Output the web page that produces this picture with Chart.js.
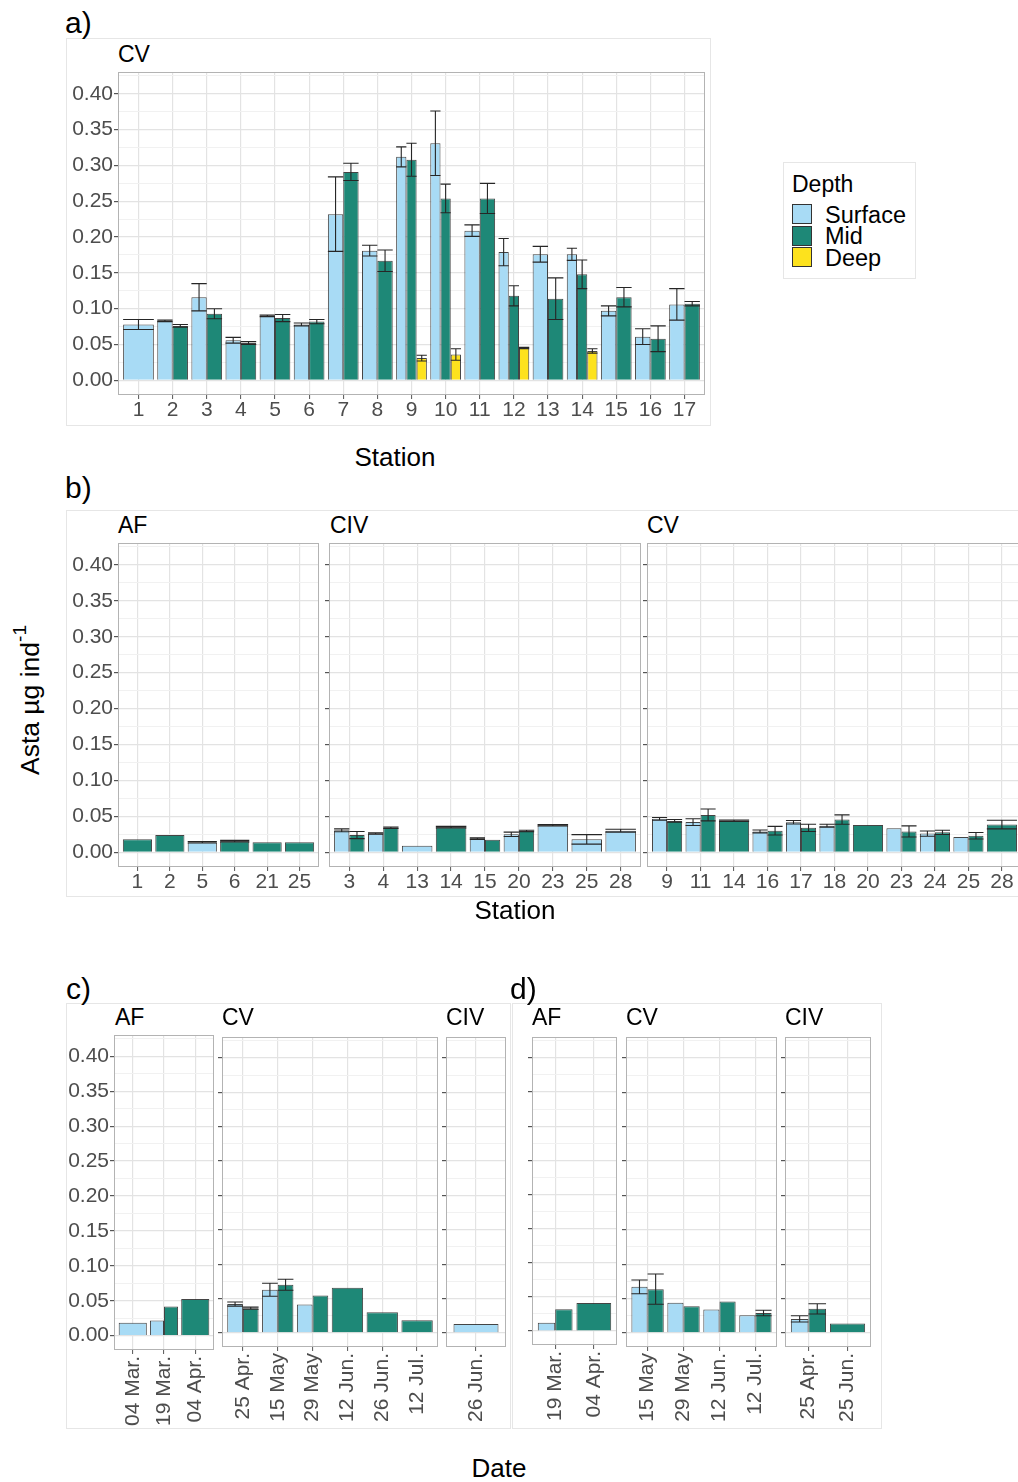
<!DOCTYPE html>
<html><head><meta charset="utf-8">
<script src="https://cdn.jsdelivr.net/npm/chart.js@4/dist/chart.umd.min.js"></script>
<style>
html,body{margin:0;padding:0;background:#fff}
body{width:1018px;height:1482px;overflow:hidden;position:relative;font-family:"Liberation Sans",Arial,Helvetica,sans-serif;color:#000}
canvas{position:absolute;display:block}
.frame{position:absolute;border:1px solid #E6E6E6;box-sizing:border-box}
.txt{position:absolute;white-space:nowrap}
.key{position:absolute;width:20px;height:20px;border:1px solid #333;box-sizing:border-box}
sup{font-size:0.72em;line-height:0;position:relative;top:-0.15em}
</style>
</head><body>
<div class="frame" style="left:66px;top:38px;width:645px;height:388px"></div>
<div class="frame" style="left:783px;top:162px;width:133px;height:117px"></div>
<div class="frame" style="left:66px;top:510px;width:960px;height:387px"></div>
<div class="frame" style="left:66px;top:1003px;width:445px;height:426px"></div>
<div class="frame" style="left:512px;top:1003px;width:370px;height:426px"></div>
<div class="key" style="left:792px;top:204px;background:#A8DBF5"></div>
<div class="key" style="left:792px;top:225.5px;background:#1E8877"></div>
<div class="key" style="left:792px;top:247px;background:#FDE21D"></div>
<script>
// ---------------- DATA ----------------
// a) CV, by station (Surface / Mid / Deep, mean and error)
const aStations   = ['1','2','3','4','5','6','7','8','9','10','11','12','13','14','15','16','17'];
const aSurface    = [0.078,0.083,0.116,0.056,0.090,0.078,0.232,0.181,0.312,0.331,0.209,0.179,0.176,0.176,0.097,0.061,0.106];
const aSurfaceErr = [0.007,0.001,0.019,0.004,0.001,0.002,0.052,0.0075,0.014,0.045,0.008,0.019,0.011,0.0085,0.007,0.011,0.022];
const aMid        = [null,0.076,0.093,0.052,0.087,0.082,0.291,0.167,0.308,0.254,0.254,0.118,0.114,0.148,0.116,0.058,0.107];
const aMidErr     = [null,0.002,0.007,0.002,0.005,0.003,0.012,0.015,0.023,0.020,0.021,0.014,0.029,0.020,0.0135,0.018,0.003];
const aDeep       = [null,null,null,null,null,null,null,null,0.031,0.036,null,0.045,null,0.041,null,null,null];
const aDeepErr    = [null,null,null,null,null,null,null,null,0.004,0.008,null,0.001,null,0.003,null,null,null];

// b) by station, facets AF / CIV / CV
const bAFStations    = ['1','2','5','6','21','25'];
const bAFSurface     = [null,null,0.014,null,null,null];
const bAFSurfaceErr  = [null,null,0.001,null,null,null];
const bAFMid         = [0.018,0.024,null,0.0155,0.014,0.014];
const bAFMidErr      = [null,null,null,0.001,null,null];

const bCIVStations   = ['3','4','13','14','15','20','23','25','28'];
const bCIVSurface    = [0.0305,0.026,0.009,null,0.019,0.025,0.0375,0.018,0.030];
const bCIVSurfaceErr = [0.002,0.001,null,null,0.001,0.003,0.001,0.0066,0.002];
const bCIVMid        = [0.024,0.034,null,0.035,0.0174,0.0296,null,null,null];
const bCIVMidErr     = [0.005,0.001,null,0.001,null,0.001,null,null,null];

const bCVStations    = ['9','11','14','16','17','18','20','23','24','25','28'];
const bCVSurface     = [0.0465,0.042,null,0.029,0.0418,0.037,null,0.0333,0.026,0.0211,null];
const bCVSurfaceErr  = [0.002,0.0047,null,0.002,0.0025,0.002,null,null,0.0037,null,null];
const bCVMid         = [0.0437,0.052,0.044,0.030,0.034,0.0455,0.038,0.029,0.0277,0.023,0.0385];
const bCVMidErr      = [0.002,0.0083,0.001,0.006,0.005,0.0065,null,0.0077,0.003,0.0045,0.006];

// c) by date, facets AF / CV / CIV
const cAFDates       = ['04 Mar.','19 Mar.','04 Apr.'];
const cAFSurface     = [0.0185,0.0218,null];
const cAFSurfaceErr  = [null,null,null];
const cAFMid         = [null,0.0417,0.0526];
const cAFMidErr      = [null,null,null];

const cCVDates       = ['25 Apr.','15 May','29 May','12 Jun.','26 Jun.','12 Jul.'];
const cCVSurface     = [0.042,0.0628,0.0415,null,null,null];
const cCVSurfaceErr  = [0.003,0.0095,null,null,null,null];
const cCVMid         = [0.036,0.070,0.0546,0.0657,0.030,0.0184];
const cCVMidErr      = [0.0015,0.008,null,null,null,null];

const cCIVDates      = ['26 Jun.'];
const cCIVSurface    = [0.013];
const cCIVSurfaceErr = [null];
const cCIVMid        = [null];
const cCIVMidErr     = [null];

// d) by date, facets AF / CV / CIV
const dAFDates       = ['19 Mar.','04 Apr.'];
const dAFSurface     = [0.012,null];
const dAFSurfaceErr  = [null,null];
const dAFMid         = [0.032,0.041];
const dAFMidErr      = [null,null];

const dCVDates       = ['15 May','29 May','12 Jun.','12 Jul.'];
const dCVSurface     = [0.067,0.0437,0.034,0.0257];
const dCVSurfaceErr  = [0.010,null,null,null];
const dCVMid         = [0.0636,0.0388,0.0456,0.029];
const dCVMidErr      = [0.022,null,null,0.004];

const dCIVDates      = ['25 Apr.','25 Jun.'];
const dCIVSurface    = [0.0204,null];
const dCIVSurfaceErr = [0.0045,null];
const dCIVMid        = [0.035,0.0136];
const dCIVMidErr     = [0.0075,null];

// shared y axis
const yTicks = [0,0.025,0.05,0.075,0.1,0.125,0.15,0.175,0.2,0.225,0.25,0.275,0.3,0.325,0.35,0.375,0.4,0.425];
const yMin = -0.0205, yMax = 0.4305;
const depthNames = ['Surface','Mid','Deep'];

// ---------------- STYLE / LAYOUT ----------------
const FONT = '"Liberation Sans", Arial, Helvetica, sans-serif';
const COLORS = {Surface:'#A8DBF5', Mid:'#1E8877', Deep:'#FDE21D'};
Chart.defaults.font.family = FONT;

const panels = [
  {cats:aStations, series:[[aSurface,aSurfaceErr,'Surface'],[aMid,aMidErr,'Mid'],[aDeep,aDeepErr,'Deep']], box:[118,72,705,395], yLab:true, rot:false},
  {cats:bAFStations, series:[[bAFSurface,bAFSurfaceErr,'Surface'],[bAFMid,bAFMidErr,'Mid']], box:[118,543,319,867], yLab:true, rot:false},
  {cats:bCIVStations, series:[[bCIVSurface,bCIVSurfaceErr,'Surface'],[bCIVMid,bCIVMidErr,'Mid']], box:[329,543,641,867], yLab:false, rot:false},
  {cats:bCVStations, series:[[bCVSurface,bCVSurfaceErr,'Surface'],[bCVMid,bCVMidErr,'Mid']], box:[647,543,1022,867], yLab:false, rot:false},
  {cats:cAFDates, series:[[cAFSurface,cAFSurfaceErr,'Surface'],[cAFMid,cAFMidErr,'Mid']], box:[114,1035,214,1350], yLab:true, rot:true},
  {cats:cCVDates, series:[[cCVSurface,cCVSurfaceErr,'Surface'],[cCVMid,cCVMidErr,'Mid']], box:[222,1037,438,1347], yLab:false, rot:true},
  {cats:cCIVDates, series:[[cCIVSurface,cCIVSurfaceErr,'Surface'],[cCIVMid,cCIVMidErr,'Mid']], box:[446,1037,506,1347], yLab:false, rot:true},
  {cats:dAFDates, series:[[dAFSurface,dAFSurfaceErr,'Surface'],[dAFMid,dAFMidErr,'Mid']], box:[532,1037,617,1345], yLab:false, rot:true},
  {cats:dCVDates, series:[[dCVSurface,dCVSurfaceErr,'Surface'],[dCVMid,dCVMidErr,'Mid']], box:[626,1037,777,1347], yLab:false, rot:true},
  {cats:dCIVDates, series:[[dCIVSurface,dCIVSurfaceErr,'Surface'],[dCIVMid,dCIVMidErr,'Mid']], box:[785,1037,871,1347], yLab:false, rot:true}
];

const isMajor = v => Math.abs(v/0.05 - Math.round(v/0.05)) < 1e-6;

const errPlugin = {
  id:'errbarsAndBorder',
  afterDatasetsDraw(chart){
    const ctx = chart.ctx, ys = chart.scales.y;
    chart.data.datasets.forEach((ds, di) => {
      const meta = chart.getDatasetMeta(di);
      ds.errors.forEach((e, i) => {
        const v = ds.data[i].y;
        if (v == null || e == null) return;
        const el = meta.data[i];
        if (!el) return;
        const x = el.x, hw = el.width / 2;
        const yt = ys.getPixelForValue(v + e), yb = ys.getPixelForValue(v - e);
        ctx.save();
        ctx.strokeStyle = '#262626'; ctx.lineWidth = 1.1;
        ctx.beginPath();
        ctx.moveTo(x, yt); ctx.lineTo(x, yb);
        ctx.moveTo(x - hw, yt); ctx.lineTo(x + hw, yt);
        ctx.moveTo(x - hw, yb); ctx.lineTo(x + hw, yb);
        ctx.stroke();
        ctx.restore();
      });
    });
    const a = chart.chartArea;
    ctx.save();
    ctx.strokeStyle = '#B3B3B3'; ctx.lineWidth = 1;
    ctx.strokeRect(a.left + 0.5, a.top + 0.5, a.right - a.left - 1, a.bottom - a.top - 1);
    ctx.restore();
  }
};

panels.forEach(p => {
  const [l, t, r, b] = p.box;
  const YW = p.yLab ? 56 : 6;
  const XH = p.rot ? 84 : 30;
  const padT = 1, padR = 1;
  const W = (r - l) + YW + padR;
  const H = (b - t) + XH + padT;
  const cv = document.createElement('canvas');
  cv.width = W; cv.height = H;
  cv.style.left = (l - YW) + 'px'; cv.style.top = (t - padT) + 'px';
  cv.style.width = W + 'px'; cv.style.height = H + 'px';
  document.body.appendChild(cv);
  const n = p.cats.length;
  const inRange = c => c.tick && c.tick.value >= 1 && c.tick.value <= n;
  const datasets = p.series.map(([vals, errs, name]) => ({
    label: name,
    data: vals.map((v, i) => ({x: i + 1, y: v})),
    errors: errs,
    backgroundColor: COLORS[name],
    borderColor: 'rgba(35,35,35,0.85)',
    borderWidth: 1
  }));
  new Chart(cv, {
    type: 'bar',
    data: {datasets},
    plugins: [errPlugin],
    options: {
      responsive: false, animation: false, devicePixelRatio: 1,
      layout: {padding: {left: 0, right: padR, top: padT, bottom: 0}},
      plugins: {legend: {display: false}, tooltip: {enabled: false}},
      datasets: {bar: {skipNull: true, categoryPercentage: 0.9, barPercentage: 1.0}},
      scales: {
        x: {
          type: 'linear', min: 0.4, max: n + 0.6, offset: false, bounds: 'data',
          afterBuildTicks: s => { const tk = []; for (let v = 0; v <= n + 1; v++) tk.push({value: v}); s.ticks = tk; },
          afterFit: s => { s.height = XH; s.paddingLeft = 0; s.paddingRight = 0; },
          ticks: {
            autoSkip: false, maxRotation: p.rot ? 90 : 0, minRotation: p.rot ? 90 : 0,
            padding: p.rot ? 2 : -1, color: '#4D4D4D', font: {size: 21, family: FONT},
            callback: v => (v >= 1 && v <= n) ? p.cats[v - 1] : ''
          },
          grid: {offset: false,
                 color: c => inRange(c) ? '#E3E3E3' : 'rgba(0,0,0,0)',
                 lineWidth: 1.2, tickLength: 4,
                 tickColor: c => inRange(c) ? '#555' : 'rgba(0,0,0,0)',
                 tickWidth: 1, drawOnChartArea: true},
          border: {display: false}
        },
        y: {
          type: 'linear', min: yMin, max: yMax, bounds: 'data',
          afterBuildTicks: s => { s.ticks = yTicks.map(v => ({value: v})); },
          afterFit: s => { s.width = YW; s.paddingTop = 0; s.paddingBottom = 0; },
          ticks: {
            autoSkip: false, padding: 1, color: '#4D4D4D', font: {size: 21, family: FONT},
            callback: v => (p.yLab && isMajor(v)) ? v.toFixed(2) : ''
          },
          grid: {
            color: c => (c.tick && isMajor(c.tick.value)) ? '#E3E3E3' : '#F1F1F1',
            lineWidth: c => (c.tick && isMajor(c.tick.value)) ? 1.2 : 1,
            tickLength: 4,
            tickColor: c => (c.tick && isMajor(c.tick.value)) ? '#555' : 'rgba(0,0,0,0)',
            drawOnChartArea: true
          },
          border: {display: false}
        }
      }
    }
  });
});

// ---------------- TEXT ----------------
function label(html, x, baseline, size, align, extra) {
  const d = document.createElement('div');
  d.className = 'txt';
  d.innerHTML = html;
  d.style.fontSize = size + 'px';
  d.style.lineHeight = size + 'px';
  d.style.left = x + 'px';
  d.style.top = (baseline - 0.8465 * size) + 'px';
  if (align === 'center') d.style.transform = 'translateX(-50%)';
  if (extra) Object.assign(d.style, extra);
  document.body.appendChild(d);
  return d;
}
label('a)', 65, 33, 30);
label('CV', 118, 62.5, 23);
label('Station', 395, 466, 26, 'center');
label('Depth', 792, 192, 23);
label(depthNames[0], 825, 223.5, 23.5);
label(depthNames[1], 825, 245, 23.5);
label(depthNames[2], 825, 266.5, 23.5);

label('b)', 65, 498, 30);
label('AF', 118, 533.5, 23);
label('CIV', 330, 533.5, 23);
label('CV', 647, 533.5, 23);
label('Station', 515, 919, 26, 'center');

label('c)', 66, 999, 30);
label('d)', 510, 999, 30);
label('AF', 115, 1025, 23);
label('CV', 222, 1025, 23);
label('CIV', 446, 1025, 23);
label('AF', 532, 1025, 23);
label('CV', 626, 1025, 23);
label('CIV', 785, 1025, 23);
label('Date', 499, 1477, 26, 'center');

// rotated y-axis title
const yt = document.createElement('div');
yt.className = 'txt';
yt.innerHTML = 'Asta µg ind<sup>-1</sup>';
yt.style.fontSize = '26.5px';
yt.style.lineHeight = '26.5px';
yt.style.left = '30px';
yt.style.top = '700px';
yt.style.transform = 'translate(-50%,-50%) rotate(-90deg)';
document.body.appendChild(yt);
</script>
</body></html>
